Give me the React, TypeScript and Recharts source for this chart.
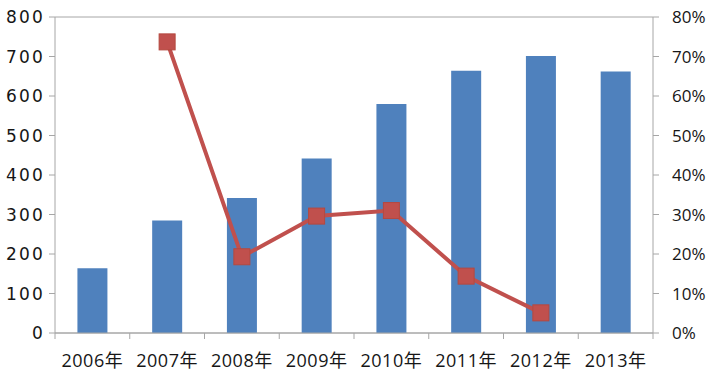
import React from 'react';
import { ComposedChart, Bar, Line, XAxis, YAxis, CartesianGrid } from 'recharts';

const years = ['2006年', '2007年', '2008年', '2009年', '2010年', '2011年', '2012年', '2013年'];
const amounts = [164, 285, 342, 442, 580, 664, 701, 662];
// growth rate in percent; no value for the first and last year
const growth: (number | null)[] = [null, 73.7, 19.3, 29.6, 31.0, 14.4, 5.1, null];

const leftTicks = [0, 100, 200, 300, 400, 500, 600, 700, 800];
const rightTicks = [0, 10, 20, 30, 40, 50, 60, 70, 80];

const BAR = '#4F81BD';
const LINE = '#C0504D';
const AXIS = '#A6A6A6';
const TEXT = '#161616';
const FONT = '"Open Sans", "Noto Sans CJK SC", sans-serif';

const data = years.map((year, i) => ({ year, amount: amounts[i], growth: growth[i] }));

// ticks between categories, like the spreadsheet original
const XTick = (props: any) => {
  const { x, y, payload, index, visibleTicksCount } = props;
  const half = payload && payload.offset ? payload.offset : 37.4;
  return (
    <g>
      <line x1={x - half} y1={y} x2={x - half} y2={y + 6} stroke={AXIS} />
      {index === visibleTicksCount - 1 && (
        <line x1={x + half} y1={y} x2={x + half} y2={y + 6} stroke={AXIS} />
      )}
      <text x={x} y={y + 34} textAnchor="middle" fill={TEXT} fontSize={18} fontFamily={FONT} letterSpacing={0.5}>
        {payload.value}
      </text>
    </g>
  );
};

const SquareDot = (props: any) => {
  const { cx, cy, value } = props;
  if (value == null || cx == null || cy == null) return null;
  return <rect x={cx - 8} y={cy - 8} width={16} height={16} fill={LINE} stroke="#B5483F" strokeWidth={1} />;
};

export default function App() {
  return (
    <div style={{ position: 'absolute', left: 0, top: 0, background: '#fff' }}>
      <ComposedChart
        width={714}
        height={373}
        data={data}
        margin={{ top: 17, right: 0, left: 0, bottom: 0 }}
        barCategoryGap="30%"
      >
        <CartesianGrid vertical={false} stroke={AXIS} strokeWidth={1} />
        <XAxis
          dataKey="year"
          height={40}
          stroke={AXIS}
          tickLine={false}
          tickSize={0}
          tickMargin={0}
          tick={<XTick />}
          interval={0}
        />
        <YAxis
          yAxisId="left"
          width={55}
          domain={[0, 800]}
          ticks={leftTicks}
          interval={0}
          stroke={AXIS}
          tickSize={6}
          tickMargin={4}
          tick={{ fill: TEXT, fontSize: 17, fontFamily: '"DejaVu Sans", sans-serif', letterSpacing: 2.2 }}
        />
        <YAxis
          yAxisId="right"
          orientation="right"
          width={61}
          domain={[0, 80]}
          ticks={rightTicks}
          interval={0}
          stroke={AXIS}
          tickSize={6}
          tickMargin={13}
          tickFormatter={(v: number) => `${v}%`}
          tick={{ fill: TEXT, fontSize: 17, fontFamily: FONT, textAnchor: 'start' }}
        />
        <Bar yAxisId="left" dataKey="amount" fill={BAR} isAnimationActive={false} />
        <Line
          yAxisId="right"
          dataKey="growth"
          stroke={LINE}
          strokeWidth={4}
          dot={<SquareDot />}
          activeDot={false}
          isAnimationActive={false}
        />
      </ComposedChart>
    </div>
  );
}
